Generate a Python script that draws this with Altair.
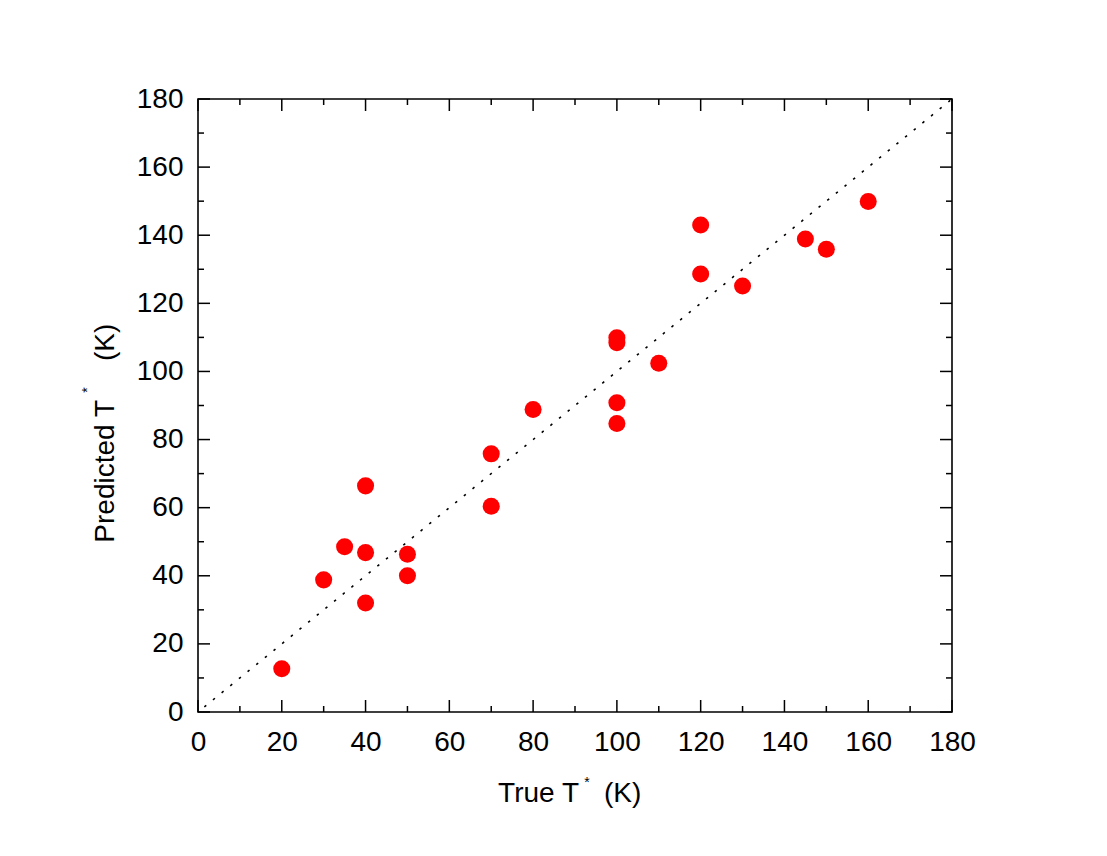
import altair as alt
import pandas as pd

# Data
true_t = [20, 30, 35, 40, 40, 40, 50, 50, 70, 70, 80, 100, 100, 100, 100, 110, 120, 120, 130, 145, 150, 160]
pred_t = [12.7, 38.8, 48.5, 66.4, 46.8, 32.0, 46.3, 40.0, 75.8, 60.4, 88.8, 109.9, 108.4, 90.8, 84.7, 102.4, 143.0, 128.6, 125.1, 138.9, 135.9, 149.9]

major_ticks = [0, 20, 40, 60, 80, 100, 120, 140, 160, 180]
minor_ticks = [10, 30, 50, 70, 90, 110, 130, 150, 170]
diag = [0, 180]

x_title_parts = ["True T", "*", "(K)"]
y_title_parts = ["Predicted T", "*", "(K)"]

W, H = 754, 613
FONT = "Liberation Sans"
MAJ, MIN = 12, 6

pts = pd.DataFrame({"x": true_t, "y": pred_t})
diag_df = pd.DataFrame({"x": diag, "y": diag})
maj_df = pd.DataFrame({"v": major_ticks})
min_df = pd.DataFrame({"v": minor_ticks})

xs = alt.Scale(domain=[0, 180], nice=False, zero=False)
ys = alt.Scale(domain=[0, 180], nice=False, zero=False)

xaxis = alt.Axis(values=major_ticks, ticks=False, domain=False, grid=False, title=None,
                 labelFont=FONT, labelFontSize=28, labelColor="black", labelPadding=16,
                 labelFlush=False, labelOverlap=False, labelBound=False)
yaxis = alt.Axis(values=major_ticks, ticks=False, domain=False, grid=False, title=None,
                 labelFont=FONT, labelFontSize=28, labelColor="black", labelPadding=15,
                 labelFlush=False, labelOverlap=False, labelBound=False)

line = alt.Chart(diag_df).mark_line(color="black", strokeWidth=1.6, strokeDash=[2.5, 8.65],
                                    strokeDashOffset=3).encode(
    x=alt.X("x:Q", scale=xs, axis=xaxis),
    y=alt.Y("y:Q", scale=ys, axis=yaxis),
)

points = alt.Chart(pts).mark_circle(color="#ff0000", opacity=1, size=290).encode(
    x=alt.X("x:Q", scale=xs),
    y=alt.Y("y:Q", scale=ys),
)

def xticks(df, length):
    bottom = alt.Chart(df).mark_rule(color="black", strokeWidth=1.5).encode(
        x=alt.X("v:Q", scale=xs), y=alt.value(H), y2=alt.value(H - length))
    top = alt.Chart(df).mark_rule(color="black", strokeWidth=1.5).encode(
        x=alt.X("v:Q", scale=xs), y=alt.value(0), y2=alt.value(length))
    return bottom + top

def yticks(df, length):
    left = alt.Chart(df).mark_rule(color="black", strokeWidth=1.5).encode(
        y=alt.Y("v:Q", scale=ys), x=alt.value(0), x2=alt.value(length))
    right = alt.Chart(df).mark_rule(color="black", strokeWidth=1.5).encode(
        y=alt.Y("v:Q", scale=ys), x=alt.value(W), x2=alt.value(W - length))
    return left + right

def txt(s, x, y, size, align, angle=0):
    return alt.Chart(pd.DataFrame({"t": [s]})).mark_text(
        font=FONT, fontSize=size, align=align, baseline="alphabetic", angle=angle, color="black"
    ).encode(text="t:N", x=alt.value(x), y=alt.value(y))

titles = (
    txt(x_title_parts[0], 381, 703, 28, "right")
    + txt(x_title_parts[1], 389, 688, 14, "center")
    + txt(x_title_parts[2], 406, 703, 28, "left")
    + txt(y_title_parts[0], -84, 301, 28, "right", 270)
    + txt(y_title_parts[1], -106, 291, 14, "center", 270)
    + txt(y_title_parts[2], -84, 262, 28, "left", 270)
)

chart = alt.layer(
    line, points,
    xticks(maj_df, MAJ), xticks(min_df, MIN),
    yticks(maj_df, MAJ), yticks(min_df, MIN),
    titles,
).properties(
    width=W, height=H,
    autosize=alt.AutoSizeParams(type="none"),
    padding={"left": 190, "top": 91, "right": 147, "bottom": 136},
).configure_view(stroke="black", strokeWidth=1.6)

chart.save("out.html", embed_options={"renderer": "svg", "actions": False})
